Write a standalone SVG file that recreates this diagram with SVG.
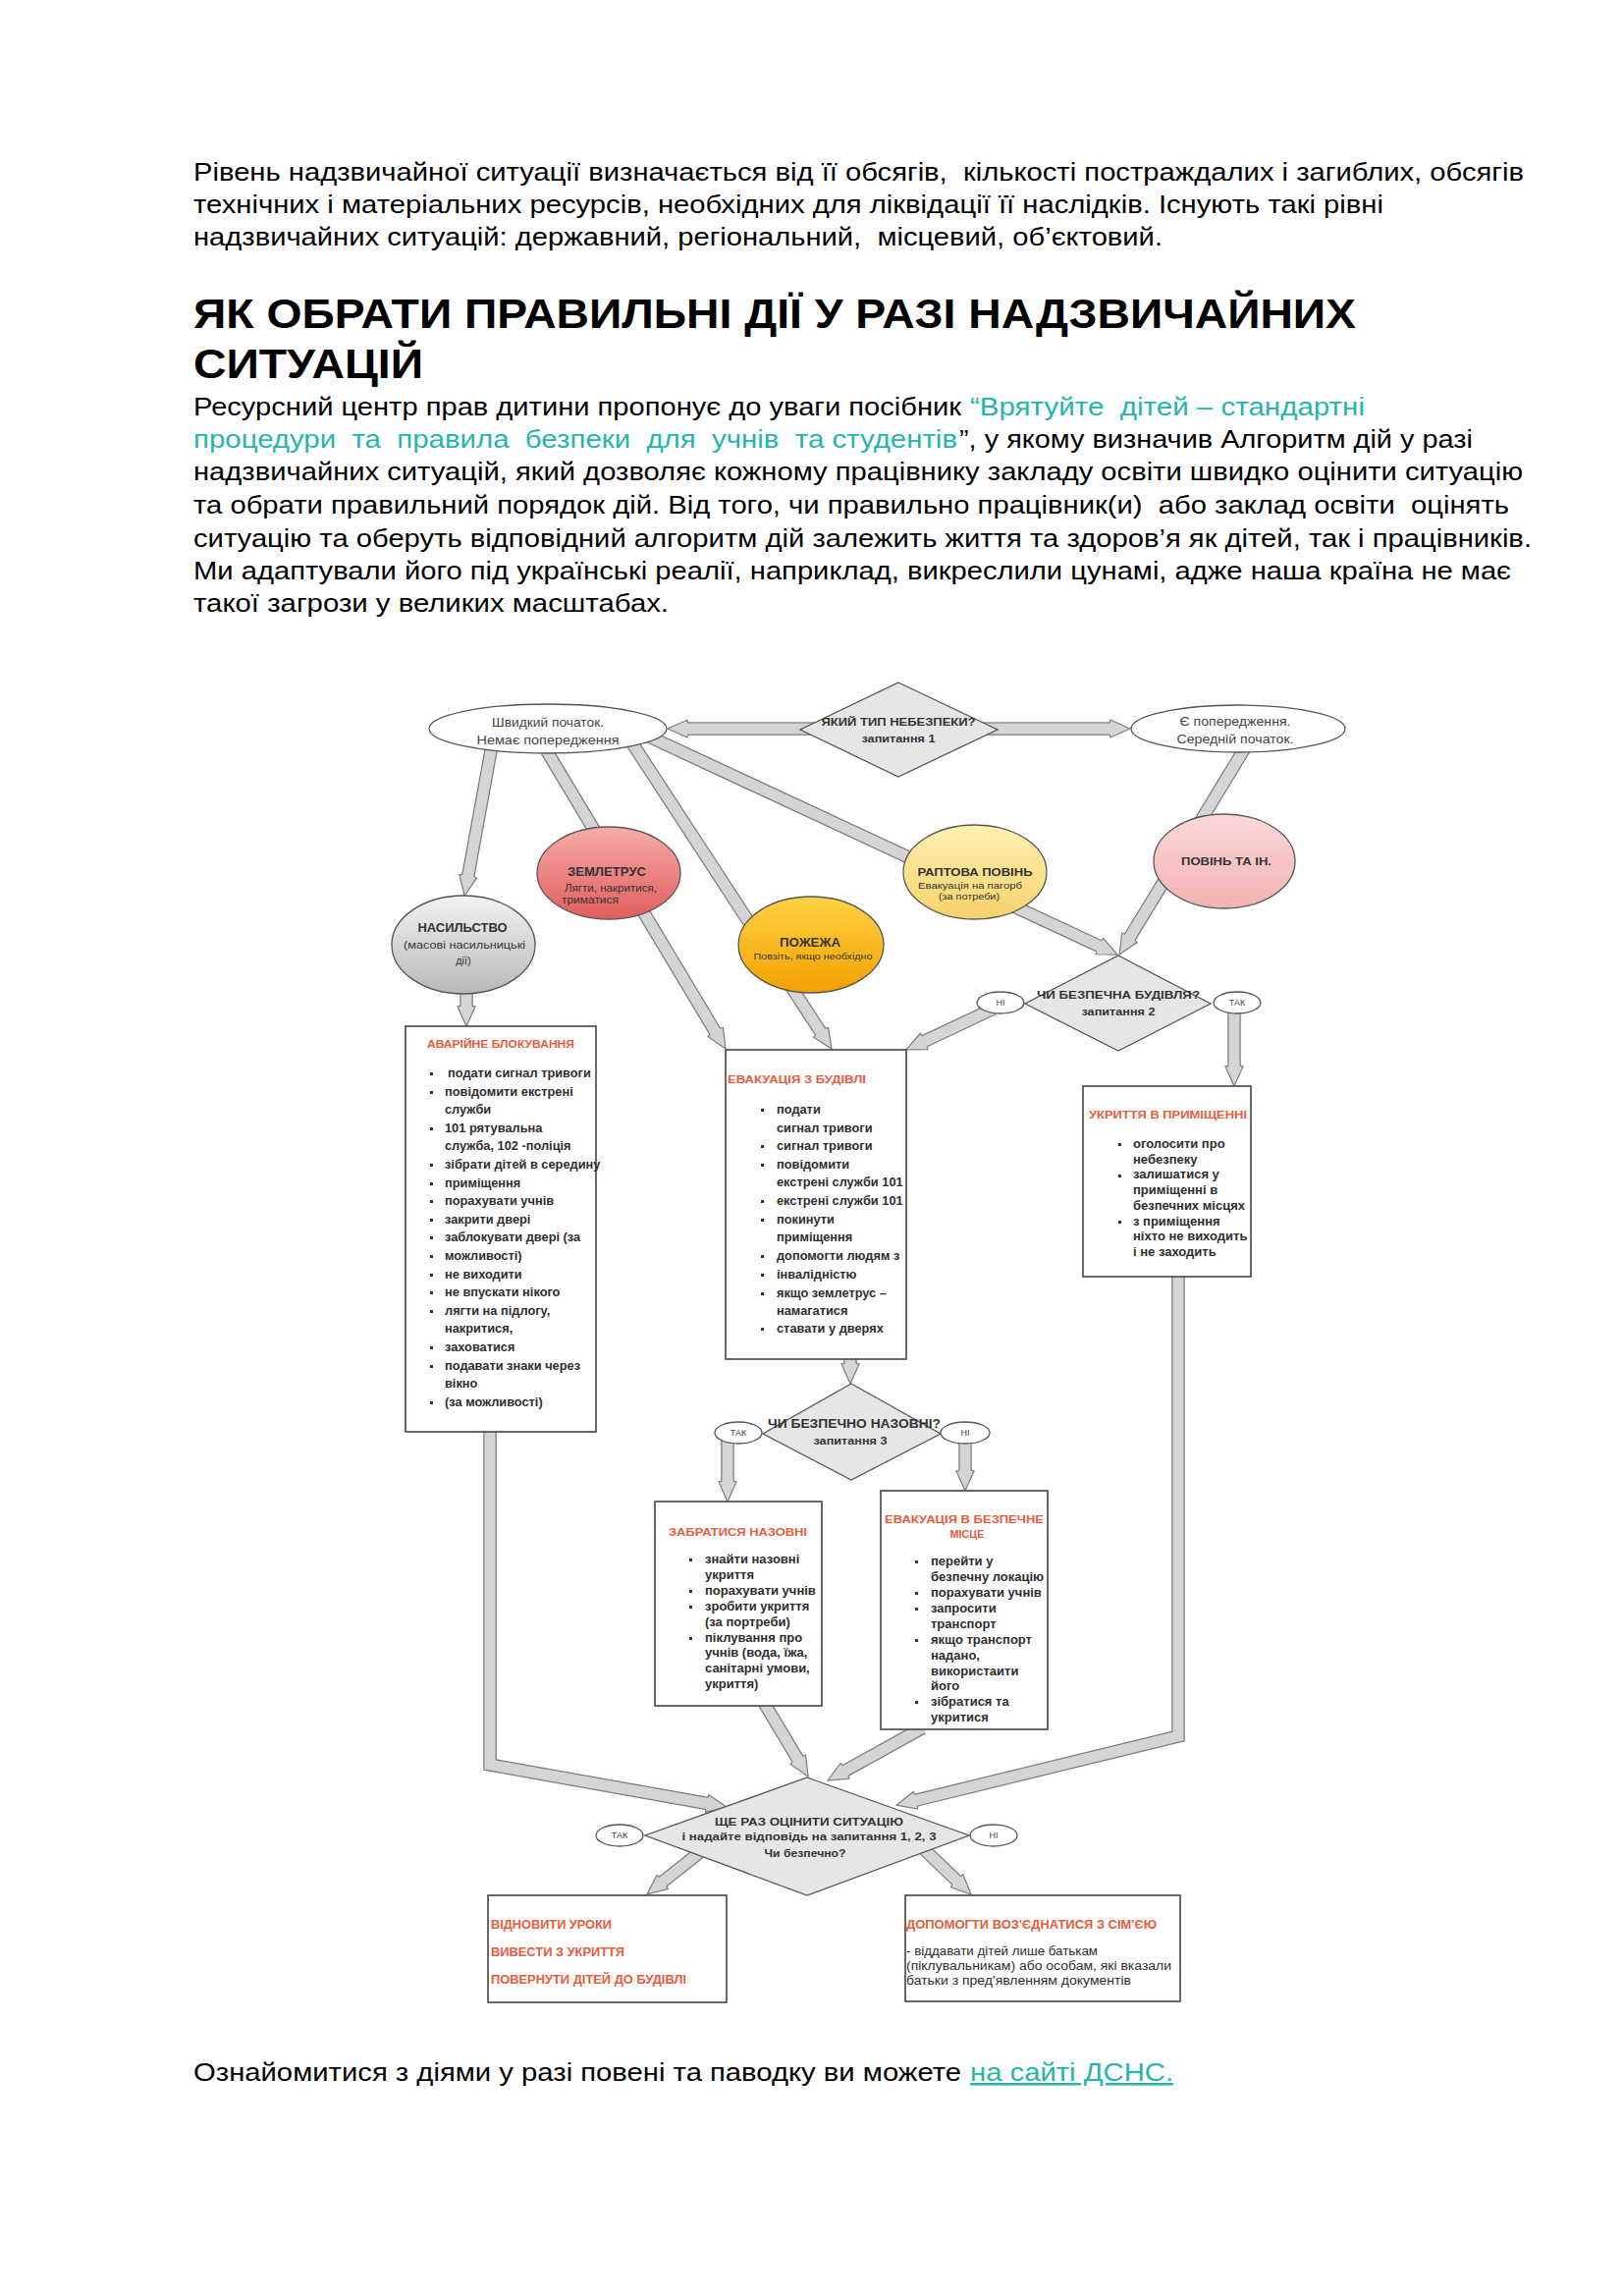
<svg xmlns="http://www.w3.org/2000/svg" width="1653" height="2338" viewBox="0 0 1653 2338">
<defs>
<style>
text{font-family:"Liberation Sans",Arial,sans-serif}
.body{font-size:25px;fill:#000}
.link{font-size:25px;fill:#26b5ad}
.h1{font-size:43px;font-weight:bold;fill:#000}
.sh{fill:none;stroke:#7c7c7c;stroke-width:13.5;stroke-linejoin:miter}
.sf{fill:none;stroke:#d5d5d5;stroke-width:11;stroke-linejoin:miter;marker-end:url(#ah)}
.ell{stroke:#555;stroke-width:1.3}
.dia{fill:#e6e6e6;stroke:#555;stroke-width:1.3}
.box{fill:#fff;stroke:#444;stroke-width:1.6}
.q{font-size:11.5px;font-weight:bold;fill:#333;text-anchor:middle}
.t{font-size:11px;font-weight:bold;fill:#e65c3c}
.li{font-size:12.8px;font-weight:bold;fill:#2e2e2e}
.ls{font-size:13px;font-weight:bold;fill:#2e2e2e}
.yn{font-size:9px;fill:#444;text-anchor:middle}
.et{font-size:12px;font-weight:bold;fill:#333;text-anchor:middle}
.es{font-size:9.5px;fill:#333;text-anchor:middle}
.st{font-size:13px;fill:#444;text-anchor:middle}
.bul{fill:#333}
</style>
<linearGradient id="gGray" x1="0" y1="0" x2="0" y2="1"><stop offset="0" stop-color="#f2f2f2"/><stop offset="1" stop-color="#b9b9b9"/></linearGradient>
<linearGradient id="gRed" x1="0" y1="0" x2="0" y2="1"><stop offset="0" stop-color="#f7abab"/><stop offset="1" stop-color="#e05e5c"/></linearGradient>
<linearGradient id="gOrange" x1="0" y1="0" x2="0" y2="1"><stop offset="0" stop-color="#ffd244"/><stop offset="1" stop-color="#f3a100"/></linearGradient>
<linearGradient id="gYellow" x1="0" y1="0" x2="0" y2="1"><stop offset="0" stop-color="#fff0b4"/><stop offset="1" stop-color="#f7d26a"/></linearGradient>
<linearGradient id="gPink" x1="0" y1="0" x2="0" y2="1"><stop offset="0" stop-color="#fcd8d8"/><stop offset="1" stop-color="#f2b3b3"/></linearGradient>
<marker id="ah" markerUnits="userSpaceOnUse" markerWidth="26" markerHeight="24" viewBox="-3 -12 26 24" refX="0" refY="0" orient="auto">
<path d="M-0.6,-6 L0,-9 L20,0 L0,9 L-0.6,6" fill="#d5d5d5" stroke="#7c7c7c" stroke-width="1.2"/>
</marker>
</defs>
<rect width="1653" height="2338" fill="#fff"/>

<g id="page-text">
<text class="body" x="197" y="184" textLength="1355" lengthAdjust="spacingAndGlyphs" xml:space="preserve">Рівень надзвичайної ситуації визначається від її обсягів,  кількості постраждалих і загиблих, обсягів</text>
<text class="body" x="197" y="217" textLength="1212" lengthAdjust="spacingAndGlyphs">технічних і матеріальних ресурсів, необхідних для ліквідації її наслідків. Існують такі рівні</text>
<text class="body" x="197" y="250" textLength="987" lengthAdjust="spacingAndGlyphs" xml:space="preserve">надзвичайних ситуацій: державний, регіональний,  місцевий, об’єктовий.</text>
<text class="h1" x="197" y="334" textLength="1184" lengthAdjust="spacingAndGlyphs">ЯК ОБРАТИ ПРАВИЛЬНІ ДІЇ У РАЗІ НАДЗВИЧАЙНИХ</text>
<text class="h1" x="197" y="385" textLength="234" lengthAdjust="spacingAndGlyphs">СИТУАЦІЙ</text>
<text class="body" x="197" y="423" textLength="782" lengthAdjust="spacingAndGlyphs">Ресурсний центр прав дитини пропонує до уваги посібник</text>
<text class="link" x="988" y="423" textLength="402" lengthAdjust="spacingAndGlyphs" xml:space="preserve">“Врятуйте  дітей – стандартні</text>
<text class="link" x="197" y="456" textLength="778" lengthAdjust="spacingAndGlyphs" xml:space="preserve">процедури  та  правила  безпеки  для  учнів  та студентів</text>
<text class="body" x="977" y="456" textLength="523" lengthAdjust="spacingAndGlyphs">”, у якому визначив Алгоритм дій у разі</text>
<text class="body" x="197" y="489" textLength="1354" lengthAdjust="spacingAndGlyphs">надзвичайних ситуацій, який дозволяє кожному працівнику закладу освіти швидко оцінити ситуацію</text>
<text class="body" x="197" y="523" textLength="1340" lengthAdjust="spacingAndGlyphs" xml:space="preserve">та обрати правильний порядок дій. Від того, чи правильно працівник(и)  або заклад освіти  оцінять</text>
<text class="body" x="197" y="557" textLength="1363" lengthAdjust="spacingAndGlyphs">ситуацію та оберуть відповідний алгоритм дій залежить життя та здоров’я як дітей, так і працівників.</text>
<text class="body" x="197" y="590" textLength="1342" lengthAdjust="spacingAndGlyphs">Ми адаптували його під українські реалії, наприклад, викреслили цунамі, адже наша країна не має</text>
<text class="body" x="197" y="623" textLength="484" lengthAdjust="spacingAndGlyphs">такої загрози у великих масштабах.</text>
<text class="body" x="197" y="2119" textLength="782" lengthAdjust="spacingAndGlyphs">Ознайомитися з діями у разі повені та паводку ви можете</text>
<text class="link" x="988" y="2119" textLength="207" lengthAdjust="spacingAndGlyphs" text-decoration="underline">на сайті ДСНС.</text>
</g>

<g id="connectors">
<g id="c-q1-fast"><path class="sh" d="M830,742 L700,742"/><path class="sf" d="M830,742 L700,742"/></g>
<g id="c-q1-warn"><path class="sh" d="M1001,742 L1131,742"/><path class="sf" d="M1001,742 L1131,742"/></g>
<g id="c-fast-violence"><path class="sh" d="M501,759 L476.7,892.3"/><path class="sf" d="M501,759 L476.7,892.3"/></g>
<g id="c-violence-block"><path class="sh" d="M475,1005 L475,1025"/><path class="sf" d="M475,1005 L475,1025"/></g>
<g id="c-fast-quake-evac"><path class="sh" d="M557,765 L728.7,1050.9"/><path class="sf" d="M557,765 L728.7,1050.9"/></g>
<g id="c-fast-fire-evac"><path class="sh" d="M644,757 L836.1,1051.3"/><path class="sf" d="M644,757 L836.1,1051.3"/></g>
<g id="c-fast-flash-q2"><path class="sh" d="M661,750 L1119.9,963.6"/><path class="sf" d="M661,750 L1119.9,963.6"/></g>
<g id="c-warn-flood-q2"><path class="sh" d="M1269,760 L1150.4,954.9"/><path class="sf" d="M1269,760 L1150.4,954.9"/></g>
<g id="c-no2-evac"><path class="sh" d="M1012,1027 L941.1,1060.4"/><path class="sf" d="M1012,1027 L941.1,1060.4"/></g>
<g id="c-yes2-shelter"><path class="sh" d="M1257,1028 L1257,1086"/><path class="sf" d="M1257,1028 L1257,1086"/></g>
<g id="c-evac-q3"><path class="sh" d="M866,1382 L866,1389"/><path class="sf" d="M866,1382 L866,1389"/></g>
<g id="c-yes3-outside"><path class="sh" d="M741,1466 L741,1509"/><path class="sf" d="M741,1466 L741,1509"/></g>
<g id="c-no3-safe"><path class="sh" d="M983,1466 L983,1498"/><path class="sf" d="M983,1466 L983,1498"/></g>
<g id="c-shelter-final"><path class="sh" d="M1200,1298 L1200,1768 L932.4,1833.3"/><path class="sf" d="M1200,1298 L1200,1768 L932.4,1833.3"/></g>
<g id="c-block-final"><path class="sh" d="M499,1456 L499,1797 L720.3,1836.5"/><path class="sf" d="M499,1456 L499,1797 L720.3,1836.5"/></g>
<g id="c-outside-final"><path class="sh" d="M778.2,1734 L812.8,1791.8"/><path class="sf" d="M778.2,1734 L812.8,1791.8"/></g>
<g id="c-safe-final"><path class="sh" d="M939.6,1759.5 L860.5,1803.3"/><path class="sf" d="M939.6,1759.5 L860.5,1803.3"/></g>
<g id="c-final-yes"><path class="sh" d="M718,1882 L674.6,1916.5"/><path class="sf" d="M718,1882 L674.6,1916.5"/></g>
<g id="c-final-no"><path class="sh" d="M940,1882 L974.6,1915.2"/><path class="sf" d="M940,1882 L974.6,1915.2"/></g>
</g>

<g id="q1">
<polygon class="dia" points="915,695 1016,743 915,791 815,743"/>
<text class="q" x="915" y="739" textLength="157" lengthAdjust="spacingAndGlyphs">ЯКИЙ ТИП НЕБЕЗПЕКИ?</text>
<text class="q" x="915" y="756" textLength="75" lengthAdjust="spacingAndGlyphs">запитання 1</text>
</g>
<g id="fast">
<ellipse cx="558" cy="742" rx="121" ry="25" fill="#fff" class="ell"/>
<text class="st" x="558" y="740" textLength="114" lengthAdjust="spacingAndGlyphs">Швидкий початок.</text>
<text class="st" x="558" y="758" textLength="145" lengthAdjust="spacingAndGlyphs">Немає попередження</text>
</g>
<g id="warn">
<ellipse cx="1261" cy="742" rx="109" ry="24" fill="#fff" class="ell"/>
<text class="st" x="1258" y="739" textLength="113" lengthAdjust="spacingAndGlyphs">Є попередження.</text>
<text class="st" x="1258" y="757" textLength="119" lengthAdjust="spacingAndGlyphs">Середній початок.</text>
</g>
<g id="quake">
<ellipse cx="620" cy="889" rx="73" ry="47" fill="url(#gRed)" class="ell"/>
<text class="et" x="618" y="892" textLength="80" lengthAdjust="spacingAndGlyphs">ЗЕМЛЕТРУС</text>
<text class="es" style="font-size:10px" x="622" y="908" textLength="94" lengthAdjust="spacingAndGlyphs">Лягти, накритися,</text>
<text class="es" style="font-size:10px" x="601" y="920" textLength="58" lengthAdjust="spacingAndGlyphs">триматися</text>
</g>
<g id="violence">
<ellipse cx="472" cy="962" rx="73" ry="50" fill="url(#gGray)" class="ell"/>
<text class="et" x="471" y="949" textLength="91" lengthAdjust="spacingAndGlyphs">НАСИЛЬСТВО</text>
<text class="es" style="font-size:11px" x="473" y="966" textLength="124" lengthAdjust="spacingAndGlyphs">(масові насильницькі</text>
<text class="es" style="font-size:11px" x="472" y="982">дії)</text>
</g>
<g id="fire">
<ellipse cx="826" cy="962" rx="74" ry="49" fill="url(#gOrange)" class="ell" stroke="#c98a10"/>
<text class="et" x="825" y="964" textLength="62" lengthAdjust="spacingAndGlyphs">ПОЖЕЖА</text>
<text class="es" style="font-size:9px" x="828" y="977" textLength="121" lengthAdjust="spacingAndGlyphs">Повзіть, якщо необхідно</text>
</g>
<g id="flash-flood">
<ellipse cx="993" cy="888" rx="73" ry="48" fill="url(#gYellow)" class="ell" stroke="#c9a94d"/>
<text class="et" style="font-size:11.5px" x="993" y="892" textLength="117" lengthAdjust="spacingAndGlyphs">РАПТОВА ПОВІНЬ</text>
<text class="es" x="988" y="905" textLength="106" lengthAdjust="spacingAndGlyphs">Евакуація на пагорб</text>
<text class="es" x="987" y="916" textLength="62" lengthAdjust="spacingAndGlyphs">(за потреби)</text>
</g>
<g id="flood">
<ellipse cx="1247" cy="877" rx="72" ry="48" fill="url(#gPink)" class="ell"/>
<text class="et" style="font-size:11px" x="1249" y="881" textLength="92" lengthAdjust="spacingAndGlyphs">ПОВІНЬ ТА ІН.</text>
</g>

<g id="q2">
<polygon class="dia" points="1139,973 1233,1022 1139,1070 1044,1022"/>
<text class="q" x="1139" y="1017" textLength="166" lengthAdjust="spacingAndGlyphs">ЧИ БЕЗПЕЧНА БУДІВЛЯ?</text>
<text class="q" x="1139" y="1034" textLength="75" lengthAdjust="spacingAndGlyphs">запитання 2</text>
</g>
<g id="q2-no">
<ellipse cx="1019" cy="1021" rx="24" ry="11" fill="#fff" class="ell"/>
<text class="yn" x="1019" y="1024">НІ</text>
</g>
<g id="q2-yes">
<ellipse cx="1260" cy="1021" rx="24" ry="11" fill="#fff" class="ell"/>
<text class="yn" x="1260" y="1024">ТАК</text>
</g>

<g id="lockdown">
<rect class="box" x="413" y="1045" width="194" height="413"/>
<text class="t" x="435" y="1067" textLength="150" lengthAdjust="spacingAndGlyphs">АВАРІЙНЕ БЛОКУВАННЯ</text>
<g class="bul">
<rect x="438" y="1092" width="3" height="3"/><rect x="438" y="1111" width="3" height="3"/><rect x="438" y="1148" width="3" height="3"/>
<rect x="438" y="1185" width="3" height="3"/><rect x="438" y="1204" width="3" height="3"/><rect x="438" y="1222" width="3" height="3"/>
<rect x="438" y="1241" width="3" height="3"/><rect x="438" y="1259" width="3" height="3"/><rect x="438" y="1278" width="3" height="3"/>
<rect x="438" y="1297" width="3" height="3"/><rect x="438" y="1315" width="3" height="3"/><rect x="438" y="1334" width="3" height="3"/>
<rect x="438" y="1371" width="3" height="3"/><rect x="438" y="1390" width="3" height="3"/><rect x="438" y="1427" width="3" height="3"/>
</g>
<text class="li" x="456" y="1097">подати сигнал тривоги</text>
<text class="li" x="453" y="1116">повідомити екстрені</text>
<text class="li" x="453" y="1134">служби</text>
<text class="li" x="453" y="1153">101 рятувальна</text>
<text class="li" x="453" y="1171">служба, 102 -поліція</text>
<text class="li" x="453" y="1190">зібрати дітей в середину</text>
<text class="li" x="453" y="1209">приміщення</text>
<text class="li" x="453" y="1227">порахувати учнів</text>
<text class="li" x="453" y="1246">закрити двері</text>
<text class="li" x="453" y="1264">заблокувати двері (за</text>
<text class="li" x="453" y="1283">можливості)</text>
<text class="li" x="453" y="1302">не виходити</text>
<text class="li" x="453" y="1320">не впускати нікого</text>
<text class="li" x="453" y="1339">лягти на підлогу,</text>
<text class="li" x="453" y="1357">накритися,</text>
<text class="li" x="453" y="1376">заховатися</text>
<text class="li" x="453" y="1395">подавати знаки через</text>
<text class="li" x="453" y="1413">вікно</text>
<text class="li" x="453" y="1432">(за можливості)</text>
</g>

<g id="evacuation">
<rect class="box" x="739" y="1069" width="184" height="315"/>
<text class="t" x="741" y="1103" textLength="141" lengthAdjust="spacingAndGlyphs">ЕВАКУАЦІЯ З БУДІВЛІ</text>
<g class="bul">
<rect x="775" y="1129" width="3" height="3"/><rect x="775" y="1166" width="3" height="3"/><rect x="775" y="1185" width="3" height="3"/>
<rect x="775" y="1222" width="3" height="3"/><rect x="775" y="1241" width="3" height="3"/><rect x="775" y="1278" width="3" height="3"/>
<rect x="775" y="1297" width="3" height="3"/><rect x="775" y="1316" width="3" height="3"/><rect x="775" y="1352" width="3" height="3"/>
</g>
<text class="li" x="791" y="1134">подати</text>
<text class="li" x="791" y="1153">сигнал тривоги</text>
<text class="li" x="791" y="1171">сигнал тривоги</text>
<text class="li" x="791" y="1190">повідомити</text>
<text class="li" x="791" y="1208">екстрені служби 101</text>
<text class="li" x="791" y="1227">екстрені служби 101</text>
<text class="li" x="791" y="1246">покинути</text>
<text class="li" x="791" y="1264">приміщення</text>
<text class="li" x="791" y="1283">допомогти людям з</text>
<text class="li" x="791" y="1302">інвалідністю</text>
<text class="li" x="791" y="1321">якщо землетрус –</text>
<text class="li" x="791" y="1339">намагатися</text>
<text class="li" x="791" y="1357">ставати у дверях</text>
</g>

<g id="shelter">
<rect class="box" x="1103" y="1106" width="171" height="194"/>
<text class="t" x="1109" y="1139" textLength="161" lengthAdjust="spacingAndGlyphs">УКРИТТЯ В ПРИМІЩЕННІ</text>
<g class="bul">
<rect x="1139" y="1164" width="3" height="3"/><rect x="1139" y="1196" width="3" height="3"/><rect x="1139" y="1243" width="3" height="3"/>
</g>
<text class="ls" x="1154" y="1169">оголосити про</text>
<text class="ls" x="1154" y="1185">небезпеку</text>
<text class="ls" x="1154" y="1200">залишатися у</text>
<text class="ls" x="1154" y="1216">приміщенні в</text>
<text class="ls" x="1154" y="1232">безпечних місцях</text>
<text class="ls" x="1154" y="1248">з приміщення</text>
<text class="ls" x="1154" y="1263">ніхто не виходить</text>
<text class="ls" x="1154" y="1279">і не заходить</text>
</g>

<g id="q3">
<polygon class="dia" points="867,1409 958,1460 867,1507 777,1460"/>
<text class="q" style="font-size:12px" x="870" y="1454" textLength="176" lengthAdjust="spacingAndGlyphs">ЧИ БЕЗПЕЧНО НАЗОВНІ?</text>
<text class="q" x="866" y="1471" textLength="75" lengthAdjust="spacingAndGlyphs">запитання 3</text>
</g>
<g id="q3-yes">
<ellipse cx="752" cy="1459" rx="24" ry="11" fill="#fff" class="ell"/>
<text class="yn" x="752" y="1462">ТАК</text>
</g>
<g id="q3-no">
<ellipse cx="983" cy="1459" rx="25" ry="11" fill="#fff" class="ell"/>
<text class="yn" x="983" y="1462">НІ</text>
</g>

<g id="go-outside">
<rect class="box" x="667" y="1529" width="170" height="208"/>
<text class="t" x="681" y="1564" textLength="141" lengthAdjust="spacingAndGlyphs">ЗАБРАТИСЯ НАЗОВНІ</text>
<g class="bul">
<rect x="702" y="1587" width="3" height="3"/><rect x="702" y="1619" width="3" height="3"/><rect x="702" y="1635" width="3" height="3"/><rect x="702" y="1667" width="3" height="3"/>
</g>
<text class="ls" x="718" y="1592">знайти назовні</text>
<text class="ls" x="718" y="1608">укриття</text>
<text class="ls" x="718" y="1624">порахувати учнів</text>
<text class="ls" x="718" y="1640">зробити укриття</text>
<text class="ls" x="718" y="1656">(за портреби)</text>
<text class="ls" x="718" y="1672">піклування про</text>
<text class="ls" x="718" y="1687">учнів (вода, їжа,</text>
<text class="ls" x="718" y="1703">санітарні умови,</text>
<text class="ls" x="718" y="1719">укриття)</text>
</g>

<g id="safe-place">
<rect class="box" x="897" y="1518" width="170" height="243"/>
<text class="t" x="982" y="1551" text-anchor="middle" textLength="162" lengthAdjust="spacingAndGlyphs">ЕВАКУАЦІЯ В БЕЗПЕЧНЕ</text>
<text class="t" x="985" y="1566" text-anchor="middle" textLength="35" lengthAdjust="spacingAndGlyphs">МІСЦЕ</text>
<g class="bul">
<rect x="932" y="1589" width="3" height="3"/><rect x="932" y="1621" width="3" height="3"/><rect x="932" y="1637" width="3" height="3"/>
<rect x="932" y="1669" width="3" height="3"/><rect x="932" y="1732" width="3" height="3"/>
</g>
<text class="ls" x="948" y="1594">перейти у</text>
<text class="ls" x="948" y="1610">безпечну локацію</text>
<text class="ls" x="948" y="1626">порахувати учнів</text>
<text class="ls" x="948" y="1642">запросити</text>
<text class="ls" x="948" y="1658">транспорт</text>
<text class="ls" x="948" y="1674">якщо транспорт</text>
<text class="ls" x="948" y="1690">надано,</text>
<text class="ls" x="948" y="1706">використаити</text>
<text class="ls" x="948" y="1721">його</text>
<text class="ls" x="948" y="1737">зібратися та</text>
<text class="ls" x="948" y="1753">укритися</text>
</g>

<g id="q-final">
<polygon class="dia" points="822,1810 987,1869 822,1930 657,1869"/>
<text class="q" x="824" y="1859" textLength="192" lengthAdjust="spacingAndGlyphs">ЩЕ РАЗ ОЦІНИТИ СИТУАЦІЮ</text>
<text class="q" x="824" y="1874" textLength="259" lengthAdjust="spacingAndGlyphs">і надайте відповідь на запитання 1, 2, 3</text>
<text class="q" x="820" y="1891" textLength="83" lengthAdjust="spacingAndGlyphs">Чи безпечно?</text>
</g>
<g id="final-yes">
<ellipse cx="631" cy="1869" rx="24" ry="11" fill="#fff" class="ell"/>
<text class="yn" x="631" y="1872">ТАК</text>
</g>
<g id="final-no">
<ellipse cx="1012" cy="1869" rx="24" ry="11" fill="#fff" class="ell"/>
<text class="yn" x="1012" y="1872">НІ</text>
</g>

<g id="resume">
<rect class="box" x="497" y="1930" width="243" height="109"/>
<text class="t" style="font-size:12px" x="500" y="1964" textLength="123" lengthAdjust="spacingAndGlyphs">ВІДНОВИТИ УРОКИ</text>
<text class="t" style="font-size:12px" x="500" y="1992" textLength="136" lengthAdjust="spacingAndGlyphs">ВИВЕСТИ З УКРИТТЯ</text>
<text class="t" style="font-size:12px" x="500" y="2020" textLength="199" lengthAdjust="spacingAndGlyphs">ПОВЕРНУТИ ДІТЕЙ ДО БУДІВЛІ</text>
</g>

<g id="reunite">
<rect class="box" x="922" y="1930" width="280" height="108"/>
<text class="t" style="font-size:12px" x="923" y="1964" textLength="255" lengthAdjust="spacingAndGlyphs">ДОПОМОГТИ ВОЗ'ЄДНАТИСЯ З СІМ'ЄЮ</text>
<text class="li" style="font-weight:normal;font-size:12px" x="923" y="1991" textLength="195" lengthAdjust="spacingAndGlyphs">- віддавати дітей лише батькам</text>
<text class="li" style="font-weight:normal;font-size:12px" x="923" y="2006" textLength="270" lengthAdjust="spacingAndGlyphs">(піклувальникам) або особам, які вказали</text>
<text class="li" style="font-weight:normal;font-size:12px" x="923" y="2021" textLength="229" lengthAdjust="spacingAndGlyphs">батьки з пред'явленням документів</text>
</g>
</svg>
